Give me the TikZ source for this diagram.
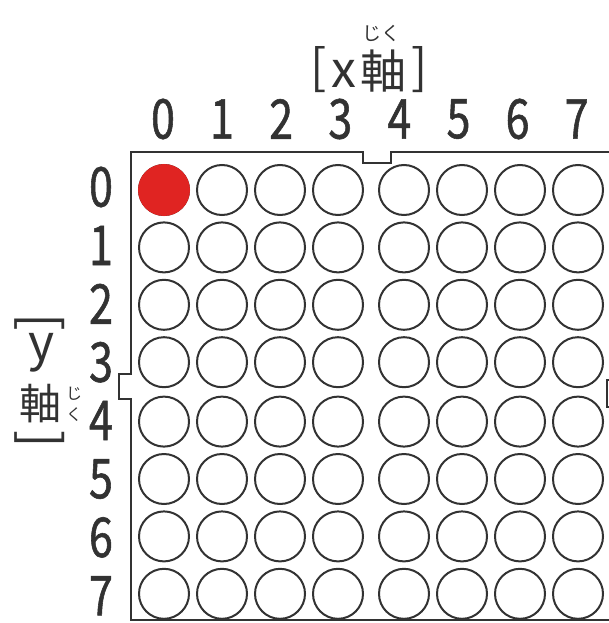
\documentclass[tikz,border=0pt]{standalone}
\usepackage{fontspec}
\newfontfamily\jpfont{Noto Sans CJK JP}
\newfontfamily\numfont{Noto Sans CJK JP}[FakeStretch=0.78, FakeBold=1]
\definecolor{ledred}{RGB}{224,36,34}
\definecolor{inkgray}{RGB}{50,50,50}

\tikzset{
  hole/.style={circle, draw=inkgray, line width=2pt, minimum size=50pt, inner sep=0pt},
  lit/.style={hole, draw=none, fill=ledred, minimum size=52pt},
  axisnum/.style={font=\numfont\fontsize{55}{55}\selectfont, inner sep=0pt, text=inkgray},
  jp/.style={font=\jpfont\fontsize{#1}{#1}\selectfont, inner sep=0pt, text=inkgray},
}

\begin{document}
\begin{tikzpicture}[x=1pt, y=-1pt]
  \useasboundingbox (0,0) rectangle (609,623);
  \clip (0,0) rectangle (609,623);

  % board outline with its three notches
  \draw[inkgray, line width=2.6pt, line join=miter]
    (131,152) -- (363,152) -- (363,163) -- (391,163) -- (391,152) -- (622,152)
    -- (622,380) -- (607,380) -- (607,407) -- (622,407) -- (622,620)
    -- (131,620) -- (131,399) -- (119,399) -- (119,374) -- (131,374) -- cycle;

  % 8x8 grid of holes, gap between columns/rows 3 and 4
  \foreach \i in {0,...,7} {
    \foreach \j in {0,...,7} {
      \pgfmathsetmacro\cx{164+58*\i+8*(\i>3)}
      \pgfmathsetmacro\cy{190+57.4*\j+2*(\j>3)}
      \node[hole] (c-\i-\j) at (\cx,\cy) {};
    }
  }
  \node[lit] (led) at (c-0-0) {};

  % axis numbers
  \foreach \i in {0,...,7} {
    \pgfmathsetmacro\lx{163+59.1*\i}
    \node[axisnum] (xn-\i) at (\lx,119) {\i};
    \pgfmathsetmacro\ly{187+58.4*\i}
    \node[axisnum] (yn-\i) at (101,\ly) {\i};
  }

  % [x軸] heading
  \node[jp=48] (xbl) at (319,70) {[};
  \node[jp=50] (xx) at (344,74) {x};
  \node[jp=46] (xkanji) at (383.5,71) {軸};
  \node[jp=48] (xbr) at (420,70) {]};
  \node[jp=19] (xruby) at (381.5,33) {じく};

  % [y軸] heading, set vertically
  \node[jp=52, rotate=-90] (ybl) at (40,322) {[};
  \node[jp=50] (yy) at (42,353) {y};
  \node[jp=42] (ykanji) at (40.5,404) {軸};
  \node[font=\jpfont\fontsize{16}{21}\selectfont, inner sep=0pt, text=inkgray,
        align=center] (yruby) at (74,404) {じ\\く};
  \node[jp=52, rotate=-90] (ybr) at (40,439) {]};
\end{tikzpicture}
\end{document}
